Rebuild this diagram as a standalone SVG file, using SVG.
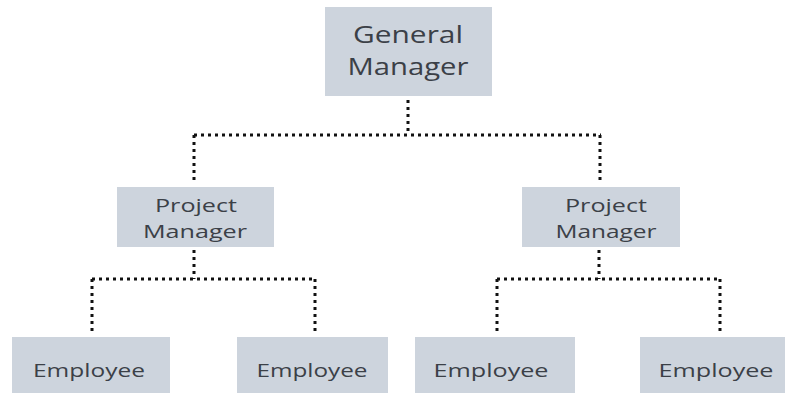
<svg xmlns="http://www.w3.org/2000/svg" width="785" height="395" viewBox="0 0 785 395">
<style>
.box{fill:#cdd4dd}
.t{font-family:"Open Sans","Noto Sans",sans-serif;fill:#3b4047;text-anchor:middle}
.gm{font-size:24px}
.pm{font-size:19px}
.em{font-size:19px}
.dot{fill:none;stroke:#111;stroke-width:3;stroke-dasharray:3 4}
</style>
<rect width="785" height="395" fill="#ffffff"/>
<g id="connectors">
<path class="dot" d="M408 100V135"/>
<path class="dot" d="M194 135H601"/>
<path class="dot" d="M194 135V182"/>
<path class="dot" d="M600 135V181"/>
<path class="dot" d="M194 250V279"/>
<path class="dot" d="M92 279H315"/>
<path class="dot" d="M92 279V334"/>
<path class="dot" d="M315 279V334"/>
<path class="dot" d="M599 250V279"/>
<path class="dot" d="M497 279H720"/>
<path class="dot" d="M497 279V334"/>
<path class="dot" d="M720 279V334"/>
</g>
<g id="gm">
<rect class="box" x="325" y="7" width="167" height="89"/>
<text class="t gm" x="408" y="43" textLength="110" lengthAdjust="spacingAndGlyphs">General</text>
<text class="t gm" x="408" y="75" textLength="121" lengthAdjust="spacingAndGlyphs">Manager</text>
</g>
<g id="pm1">
<rect class="box" x="117" y="187" width="157" height="60"/>
<text class="t pm" x="196" y="212" textLength="82" lengthAdjust="spacingAndGlyphs">Project</text>
<text class="t pm" x="195" y="238" textLength="104" lengthAdjust="spacingAndGlyphs">Manager</text>
</g>
<g id="pm2">
<rect class="box" x="522" y="187" width="158" height="60"/>
<text class="t pm" x="606" y="212" textLength="82" lengthAdjust="spacingAndGlyphs">Project</text>
<text class="t pm" x="606" y="238" textLength="101" lengthAdjust="spacingAndGlyphs">Manager</text>
</g>
<g id="e1">
<rect class="box" x="12" y="337" width="158" height="56"/>
<text class="t em" x="89" y="377" textLength="112" lengthAdjust="spacingAndGlyphs">Employee</text>
</g>
<g id="e2">
<rect class="box" x="237" y="337" width="151" height="56"/>
<text class="t em" x="312" y="377" textLength="111" lengthAdjust="spacingAndGlyphs">Employee</text>
</g>
<g id="e3">
<rect class="box" x="415" y="337" width="160" height="56"/>
<text class="t em" x="491" y="377" textLength="115" lengthAdjust="spacingAndGlyphs">Employee</text>
</g>
<g id="e4">
<rect class="box" x="640" y="337" width="145" height="56"/>
<text class="t em" x="716" y="377" textLength="115" lengthAdjust="spacingAndGlyphs">Employee</text>
</g>
</svg>
